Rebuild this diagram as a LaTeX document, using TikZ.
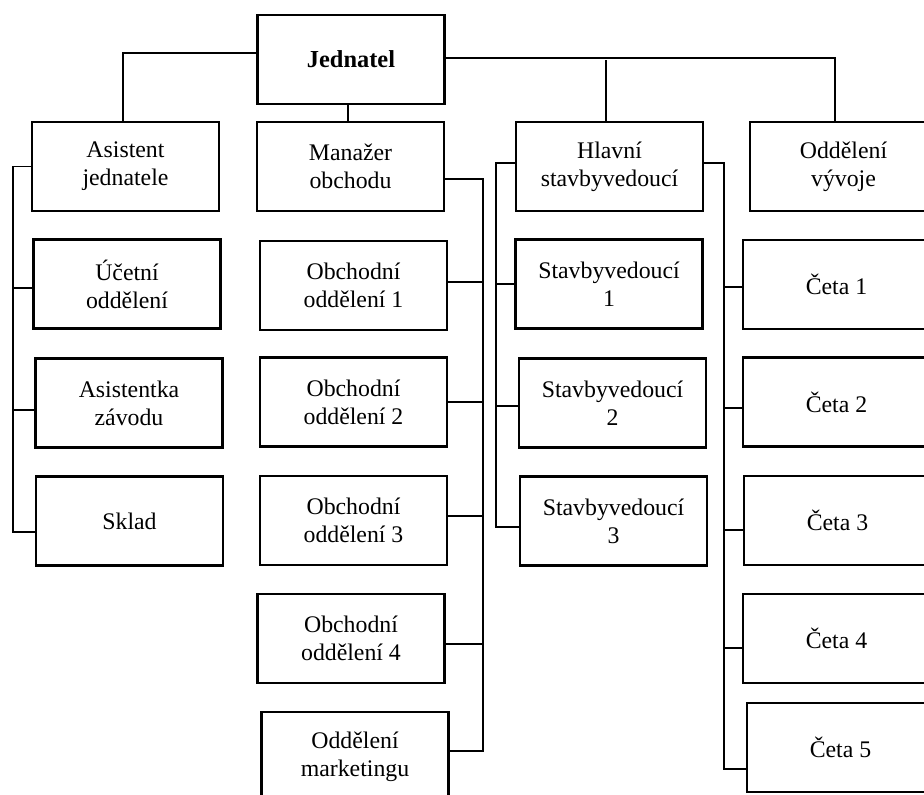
\documentclass[tikz,border=0pt]{standalone}
\usepackage{fontspec}
\setmainfont{Liberation Serif}
\begin{document}
\begin{tikzpicture}[x=0.5pt,y=-0.5pt,
  orgbox/.style={draw=black, line width=1.3pt, fill=white, rectangle,
    minimum width=93.5pt, minimum height=44.5pt, inner sep=0pt, align=center,
    font=\fontsize{11.9}{14}\selectfont},
  link/.style={draw=black, line width=0.9pt}]
\useasboundingbox (0,0) rectangle (924,794);

% top level
\node[orgbox, font=\fontsize{12.2}{14}\selectfont\bfseries] (J) at (351,59.5) {Jednatel};

% second level
\node[orgbox] (AJ) at (125.5,166.5) {Asistent\\jednatele};
\node[orgbox] (MO) at (350.5,166.5) {Manažer\\obchodu};
\node[orgbox] (HS) at (609.5,166.5) {Hlavní\\stavbyvedoucí};
\node[orgbox] (OV) at (843.5,166.5) {Oddělení\\vývoje};

% assistant column
\node[orgbox] (UO) at (127,284) {Účetní\\oddělení};
\node[orgbox] (AZ) at (129,403) {Asistentka\\závodu};
\node[orgbox] (SK) at (129.5,521) {Sklad};

% sales column
\node[orgbox] (O1) at (353.5,285.5) {Obchodní\\oddělení 1};
\node[orgbox] (O2) at (353.5,402) {Obchodní\\oddělení 2};
\node[orgbox] (O3) at (353.5,520.5) {Obchodní\\oddělení 3};
\node[orgbox] (O4) at (351,638.5) {Obchodní\\oddělení 4};
\node[orgbox] (OM) at (355,756.5) {Oddělení\\marketingu};

% site managers column
\node[orgbox] (S1) at (609,284) {Stavbyvedoucí\\1};
\node[orgbox] (S2) at (612.5,403) {Stavbyvedoucí\\2};
\node[orgbox] (S3) at (613.5,521) {Stavbyvedoucí\\3};

% crews column
\node[orgbox] (C1) at (836.5,284.5) {Četa 1};
\node[orgbox] (C2) at (836.5,402) {Četa 2};
\node[orgbox] (C3) at (837.5,520.5) {Četa 3};
\node[orgbox] (C4) at (836.5,638.5) {Četa 4};
\node[orgbox] (C5) at (840.5,747.5) {Četa 5};

% vertical bus lines
\coordinate (busA) at (13,0);
\coordinate (busM) at (483,0);
\coordinate (busL) at (496,0);
\coordinate (busR) at (724,0);

% links from the head
\draw[link] ([yshift=3.25pt]J.west) -| ([xshift=-1.25pt]AJ.north);
\draw[link] ([xshift=-1.25pt]MO.north) -- ([xshift=-1.25pt]MO.north |- J.south);
\draw[link] ([yshift=0.75pt]J.east) -| ([xshift=-4.25pt]OV.north);
\draw[link] ([xshift=-1.75pt]HS.north) -- ([xshift=-1.75pt]HS.north |- J.east);

% assistant branch
\draw[link] (AJ.west) -- (AJ.west -| busA) |- ([yshift=-5.5pt]SK.west);
\draw[link] ([yshift=-2pt]UO.west) -- ([yshift=-2pt]UO.west -| busA);
\draw[link] ([yshift=-3.5pt]AZ.west) -- ([yshift=-3.5pt]AZ.west -| busA);

% sales branch
\draw[link] ([yshift=-6.25pt]MO.east) -- ([yshift=-6.25pt]MO.east -| busM) |- ([yshift=2.75pt]OM.east);
\draw[link] ([yshift=1.75pt]O1.east) -- ([yshift=1.75pt]O1.east -| busM);
\draw[link] (O2.east) -- (O2.east -| busM);
\draw[link] ([yshift=2.25pt]O3.east) -- ([yshift=2.25pt]O3.east -| busM);
\draw[link] ([yshift=-2.75pt]O4.east) -- ([yshift=-2.75pt]O4.east -| busM);

% site managers branch
\draw[link] ([yshift=1.75pt]HS.west) -- ([yshift=1.75pt]HS.west -| busL) |- ([yshift=-3pt]S3.west);
\draw[link] (S1.west) -- (S1.west -| busL);
\draw[link] ([yshift=-1.5pt]S2.west) -- ([yshift=-1.5pt]S2.west -| busL);

% crews branch
\draw[link] ([yshift=1.75pt]HS.east) -- ([yshift=1.75pt]HS.east -| busR) |- ([yshift=-10.75pt]C5.west);
\draw[link] ([yshift=-1.25pt]C1.west) -- ([yshift=-1.25pt]C1.west -| busR);
\draw[link] ([yshift=-3pt]C2.west) -- ([yshift=-3pt]C2.west -| busR);
\draw[link] ([yshift=-4.75pt]C3.west) -- ([yshift=-4.75pt]C3.west -| busR);
\draw[link] ([yshift=-4.75pt]C4.west) -- ([yshift=-4.75pt]C4.west -| busR);
\end{tikzpicture}
\end{document}
